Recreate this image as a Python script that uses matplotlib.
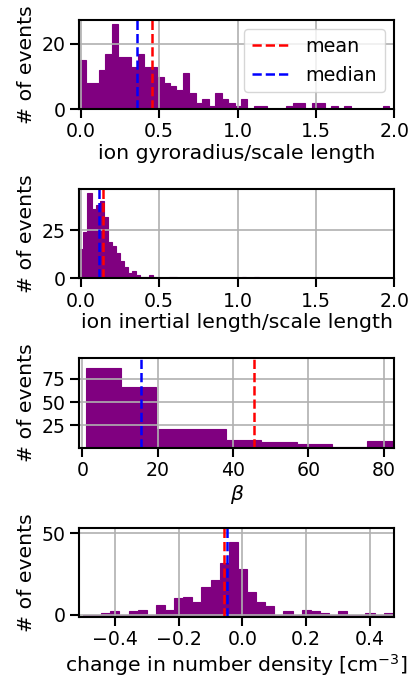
import numpy as np
import matplotlib
matplotlib.use('Agg')
import matplotlib.pyplot as plt

# histogram counts
gyro_start, gyro_width = -0.008, 0.0412
gyro_counts = [15, 8, 8, 12, 17, 26, 16, 16, 13, 17, 13, 13, 10, 8, 7, 6, 11, 5,
               2, 3, 1, 5, 3, 2, 1, 3, 0, 1, 1, 0, 0, 0, 1, 2, 2, 0, 2, 2, 0, 1,
               0, 1, 0, 0, 0, 0, 0, 1]
gyro_mean, gyro_median = 0.456, 0.36

inert_start, inert_width = -0.01, 0.026
inert_counts = [15, 24, 44, 36, 38, 40, 32, 19, 17, 13, 9, 6, 3, 4, 2, 1, 1, 2,
                1, 0, 0, 0, 1, 1, 0, 0, 0, 0, 0, 0, 0, 0, 0, 0, 0, 0, 0, 0, 0, 0,
                1, 0, 0, 1]
inert_mean, inert_median = 0.143, 0.113

beta_start, beta_width = 0.9, 9.33
beta_counts = [87, 66, 21, 21, 9, 7, 5, 2, 8]
beta_mean, beta_median = 45.7, 15.6

dn_start, dn_width = -0.5006, 0.0286
dn_counts = [0, 0, 1, 2, 0, 2, 3, 0, 6, 3, 10, 11, 8, 17, 21, 32, 45, 28, 14,
             8, 5, 0, 2, 0, 3, 2, 1, 0, 2, 0, 0, 1, 0, 1]
dn_mean, dn_median = -0.057, -0.047

plt.rcParams.update({
    'font.size': 13.6,
    'axes.labelsize': 14.7,
    'xtick.labelsize': 13.6,
    'ytick.labelsize': 13.6,
    'legend.fontsize': 13.8,
    'axes.linewidth': 1.5,
    'grid.linewidth': 1.2,
    'xtick.major.width': 1.5,
    'ytick.major.width': 1.5,
    'xtick.major.size': 6.5,
    'ytick.major.size': 6.5,
    'xtick.major.pad': 3,
    'axes.labelpad': 2,
    'lines.linewidth': 1.8,
})

fig, axes = plt.subplots(4, 1, figsize=(4.11, 6.8), dpi=100)
fig.subplots_adjust(left=0.193, right=0.959, top=0.971, bottom=0.0926, hspace=0.892)

panels = [
    (gyro_start, gyro_width, gyro_counts, gyro_mean, gyro_median, 'ion gyroradius/scale length'),
    (inert_start, inert_width, inert_counts, inert_mean, inert_median, 'ion inertial length/scale length'),
    (beta_start, beta_width, beta_counts, beta_mean, beta_median, r'$\beta$'),
    (dn_start, dn_width, dn_counts, dn_mean, dn_median, 'change in number density [cm$^{-3}$]'),
]

for ax, (start, width, counts, mean, median, xlabel) in zip(axes, panels):
    edges = start + width * np.arange(len(counts) + 1)
    centers = 0.5 * (edges[:-1] + edges[1:])
    ax.hist(centers, bins=edges, weights=counts, histtype='stepfilled',
            color='purple', edgecolor='purple', linewidth=0.8)
    ax.axvline(mean, color='red', linestyle='--', label='mean')
    ax.axvline(median, color='blue', linestyle='--', label='median')
    ax.grid(True)
    ax.set_xlabel(xlabel)
    ax.set_ylabel('# of events', labelpad=4)

axes[0].set_xlim(-0.01, 2.0)
axes[0].set_ylim(0, 27.4)
axes[0].set_yticks([0, 20])
axes[0].legend(loc='upper right')

axes[1].set_xlim(-0.01, 2.0)
axes[1].set_ylim(0, 46.3)
axes[1].set_yticks([0, 25])

axes[2].set_xlim(-0.8, 82.8)
axes[2].set_ylim(1, 97.3)
axes[2].set_yticks([25, 50, 75])
axes[2].set_xticks([0, 20, 40, 60, 80])

axes[3].set_xlim(-0.512, 0.476)
axes[3].set_ylim(-1.5, 53.6)
axes[3].set_yticks([0, 50])
axes[3].set_xticks([-0.4, -0.2, 0.0, 0.2, 0.4])

fig.savefig('out.png', dpi=100)
